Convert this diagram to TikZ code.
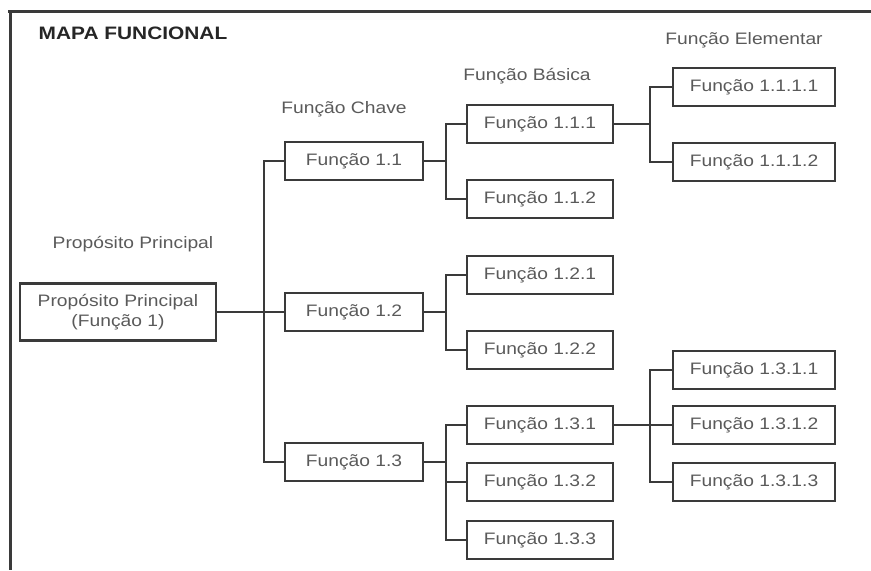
\documentclass[tikz,border=0pt]{standalone}
\usepackage{fontspec}
\setmainfont[FakeStretch=1.16]{Liberation Sans}
\usepackage{tikz}
\definecolor{ink}{HTML}{3a3a3a}
\definecolor{txt}{HTML}{5a5a5a}

\begin{document}
\begin{tikzpicture}[x=0.5pt, y=-0.5pt,
  fbox/.style={draw=ink, line width=1.2pt, minimum height=19pt, inner sep=0pt,
    text=txt, font=\fontsize{8.3}{10}\selectfont},
  lvlone/.style={fbox, minimum width=69pt},
  lvltwo/.style={fbox, minimum width=73pt},
  lvlthree/.style={fbox, minimum width=81pt},
  head/.style={text=txt, font=\fontsize{8.3}{10}\selectfont},
  link/.style={draw=ink, line width=1pt}]
\useasboundingbox (0,0) rectangle (871,570);
% frame (cut off on right and bottom)
\draw[ink, line width=1.5pt] (8,11) -- (871,11);
\draw[ink, line width=1.5pt] (10,11) -- (10,570);
\node[font=\fontsize{9}{11}\selectfont\bfseries, text=black!85] (title) at (133,33) {MAPA FUNCIONAL};
% column headings
\node[head] (hroot) at (133,244) {Propósito Principal};
\node[head] (hkey) at (344,109) {Função Chave};
\node[head] (hbasic) at (527,76) {Função Básica};
\node[head] (helem) at (744,40) {Função Elementar};
% boxes
\node[fbox, minimum width=98pt, minimum height=28.5pt, align=center] (root) at (118,312)
  {Propósito Principal\\(Função 1)};
\node[lvlone] (f11) at (354,161) {Função 1.1};
\node[lvlone] (f12) at (354,312) {Função 1.2};
\node[lvlone] (f13) at (354,462) {Função 1.3};
\node[lvltwo] (f111) at (540,124) {Função 1.1.1};
\node[lvltwo] (f112) at (540,199) {Função 1.1.2};
\node[lvltwo] (f121) at (540,275) {Função 1.2.1};
\node[lvltwo] (f122) at (540,350) {Função 1.2.2};
\node[lvltwo] (f131) at (540,425) {Função 1.3.1};
\node[lvltwo] (f132) at (540,482) {Função 1.3.2};
\node[lvltwo] (f133) at (540,540) {Função 1.3.3};
\node[lvlthree] (f1111) at (754,87) {Função 1.1.1.1};
\node[lvlthree] (f1112) at (754,162) {Função 1.1.1.2};
\node[lvlthree] (f1311) at (754,370) {Função 1.3.1.1};
\node[lvlthree] (f1312) at (754,425) {Função 1.3.1.2};
\node[lvlthree] (f1313) at (754,482) {Função 1.3.1.3};
% elbow connectors
\foreach \c in {f11, f12, f13}
  \draw[link] (root.east) -- ++(47,0) |- (\c.west);
\foreach \p/\c in {f11/f111, f11/f112, f12/f121, f12/f122, f13/f131, f13/f132, f13/f133}
  \draw[link] (\p.east) -- ++(22,0) |- (\c.west);
\foreach \p/\c in {f111/f1111, f111/f1112, f131/f1311, f131/f1312, f131/f1313}
  \draw[link] (\p.east) -- ++(36,0) |- (\c.west);
\end{tikzpicture}
\end{document}
